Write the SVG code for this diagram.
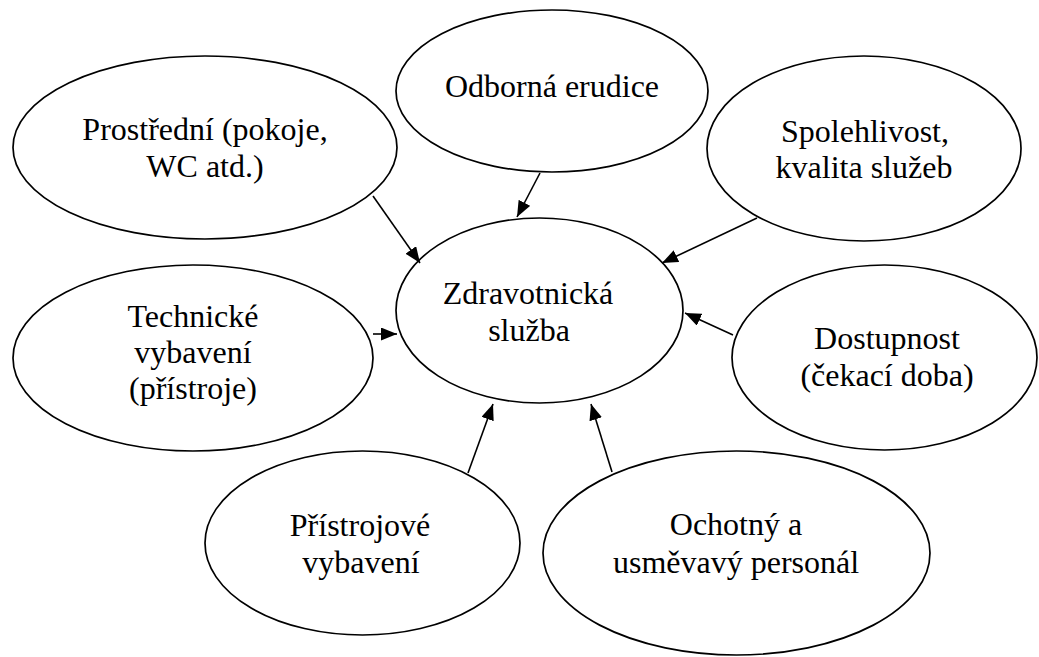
<svg xmlns="http://www.w3.org/2000/svg" width="1039" height="657" viewBox="0 0 1039 657">
  <defs>
    <style>
      .node ellipse { fill: #ffffff; stroke: #000000; stroke-width: 1.7; }
      .node text { font-family: "Liberation Serif", "Times New Roman", serif; font-size: 32px; fill: #000000; text-anchor: middle; }
      .edges line { stroke: #000000; stroke-width: 1.6; marker-end: url(#arrow); }
    </style>
    <marker id="arrow" markerUnits="userSpaceOnUse" markerWidth="17" markerHeight="14" refX="16" refY="6.5" orient="auto">
      <path d="M0,0 L16,6.5 L0,13 z" fill="#000000"/>
    </marker>
  </defs>
  <rect width="1039" height="657" fill="#ffffff"/>

  <!-- factor nodes -->
  <g id="odborna-erudice" class="node">
    <ellipse cx="552" cy="91" rx="156" ry="81"/>
    <text x="552" y="97">Odborná erudice</text>
  </g>
  <g id="prostredi" class="node">
    <ellipse cx="205" cy="147.5" rx="192" ry="91.5"/>
    <text x="205" y="140">Prostřední (pokoje,</text>
    <text x="205" y="177">WC atd.)</text>
  </g>
  <g id="spolehlivost" class="node">
    <ellipse cx="864" cy="148.5" rx="157" ry="92.5"/>
    <text x="865" y="142">Spolehlivost,</text>
    <text x="864" y="178">kvalita služeb</text>
  </g>
  <g id="technicke-vybaveni" class="node">
    <ellipse cx="193" cy="358" rx="180" ry="93"/>
    <text x="193" y="327">Technické</text>
    <text x="193" y="363">vybavení</text>
    <text x="193" y="399">(přístroje)</text>
  </g>
  <g id="dostupnost" class="node">
    <ellipse cx="884.5" cy="357.5" rx="152.5" ry="92.5"/>
    <text x="887" y="349">Dostupnost</text>
    <text x="887" y="386">(čekací doba)</text>
  </g>
  <g id="pristrojove-vybaveni" class="node">
    <ellipse cx="362.5" cy="543" rx="157.5" ry="92"/>
    <text x="360" y="536">Přístrojové</text>
    <text x="361" y="573">vybavení</text>
  </g>
  <g id="ochotny-personal" class="node">
    <ellipse cx="736.5" cy="553" rx="193.5" ry="102"/>
    <text x="736" y="535">Ochotný a</text>
    <text x="736" y="573">usměvavý personál</text>
  </g>

  <!-- central node -->
  <g id="zdravotnicka-sluzba" class="node">
    <ellipse cx="539.5" cy="310.5" rx="143.5" ry="92.5"/>
    <text x="528" y="304">Zdravotnická</text>
    <text x="529" y="341">služba</text>
  </g>

  <!-- connectors, all pointing into the central node -->
  <g id="edges" class="edges">
    <line x1="540" y1="173" x2="517" y2="217"/>
    <line x1="373" y1="196" x2="420" y2="263"/>
    <line x1="757" y1="218" x2="662" y2="263"/>
    <line x1="373" y1="334" x2="397" y2="334"/>
    <line x1="733" y1="335" x2="685" y2="313"/>
    <line x1="468" y1="473" x2="493" y2="404"/>
    <line x1="612" y1="472" x2="591" y2="404"/>
  </g>
</svg>
